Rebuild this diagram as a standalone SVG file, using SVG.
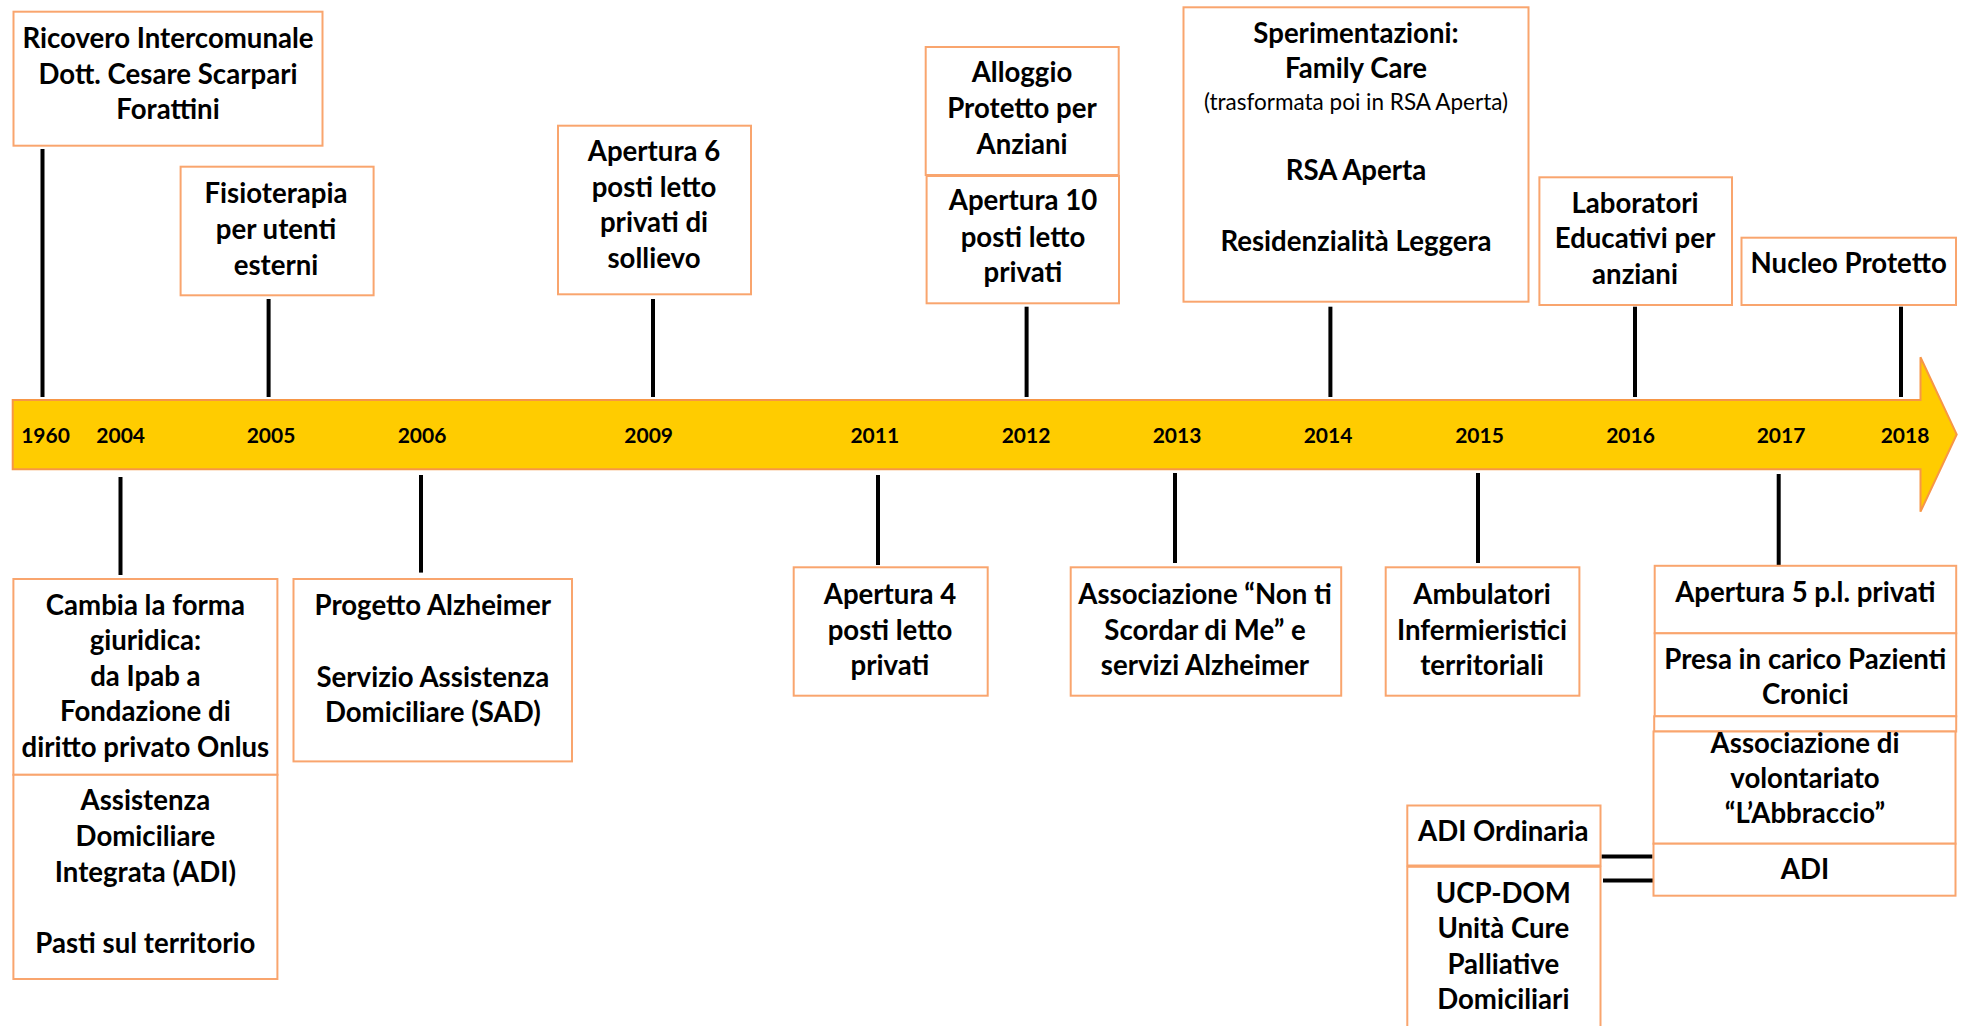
<svg xmlns="http://www.w3.org/2000/svg" width="1966" height="1026" viewBox="0 0 1966 1026">
<style>
.box{fill:#fff;stroke:#F9A56E;stroke-width:2}
.t{font-family:Lato,"Open Sans",sans-serif;font-weight:bold;font-size:27.6px;fill:#000;text-anchor:middle}
.s{font-family:Lato,"Open Sans",sans-serif;font-weight:normal;font-size:22.5px;fill:#000;text-anchor:middle}
.y{font-family:Lato,"Open Sans",sans-serif;font-weight:bold;font-size:21px;fill:#000;text-anchor:middle}
.ln{stroke:#000;stroke-width:4;fill:none}
</style>
<rect width="1966" height="1026" fill="#fff"/>
<g id="timeline">
<path d="M12.7,400 H1920.5 V357.3 L1956.7,434.4 L1920.5,511.7 V469.2 H12.7 Z" fill="#FFCC00" stroke="#F79646" stroke-width="2"/>
<text class="y" x="45.5" y="443">1960</text>
<text class="y" x="120.7" y="443">2004</text>
<text class="y" x="271" y="443">2005</text>
<text class="y" x="422" y="443">2006</text>
<text class="y" x="648.7" y="443">2009</text>
<text class="y" x="874.8" y="443">2011</text>
<text class="y" x="1026" y="443">2012</text>
<text class="y" x="1177" y="443">2013</text>
<text class="y" x="1328" y="443">2014</text>
<text class="y" x="1479.5" y="443">2015</text>
<text class="y" x="1630.5" y="443">2016</text>
<text class="y" x="1781" y="443">2017</text>
<text class="y" x="1905" y="443">2018</text>
</g>
<g id="connectors">
<line class="ln" x1="42.5" y1="149" x2="42.5" y2="397"/>
<line class="ln" x1="268.6" y1="299" x2="268.6" y2="397"/>
<line class="ln" x1="653" y1="299" x2="653" y2="397"/>
<line class="ln" x1="1026.6" y1="306.7" x2="1026.6" y2="397"/>
<line class="ln" x1="1330.4" y1="306.7" x2="1330.4" y2="397"/>
<line class="ln" x1="1635" y1="306.7" x2="1635" y2="397"/>
<line class="ln" x1="1901" y1="306.7" x2="1901" y2="397"/>
<line class="ln" x1="120.5" y1="477" x2="120.5" y2="575"/>
<line class="ln" x1="421" y1="475" x2="421" y2="572.6"/>
<line class="ln" x1="878" y1="475" x2="878" y2="565"/>
<line class="ln" x1="1175" y1="473" x2="1175" y2="563"/>
<line class="ln" x1="1478" y1="473" x2="1478" y2="563"/>
<line class="ln" x1="1778.7" y1="474" x2="1778.7" y2="565"/>
<line class="ln" x1="1601.5" y1="856.4" x2="1652.5" y2="856.4"/>
<line class="ln" x1="1603" y1="880.6" x2="1653.5" y2="880.6"/>
</g>
<g id="n1960">
<rect class="box" x="13.5" y="11.7" width="309" height="134"/>
<text class="t" x="168" y="48.3">Ricovero Intercomunale</text>
<text class="t" x="168" y="83.6">Dott. Cesare Scarpari</text>
<text class="t" x="168" y="119">Forattini</text>
</g>
<g id="n2005">
<rect class="box" x="180.6" y="166.7" width="193" height="128.6"/>
<text class="t" x="276" y="203">Fisioterapia</text>
<text class="t" x="276" y="239">per utenti</text>
<text class="t" x="276" y="275">esterni</text>
</g>
<g id="n2009">
<rect class="box" x="558" y="125.7" width="193" height="168.6"/>
<text class="t" x="654" y="161">Apertura 6</text>
<text class="t" x="654" y="196.7">posti letto</text>
<text class="t" x="654" y="232.3">privati di</text>
<text class="t" x="654" y="267.7">sollievo</text>
</g>
<g id="n2012a">
<rect class="box" x="925.7" y="47" width="193" height="128"/>
<text class="t" x="1022" y="81.7">Alloggio</text>
<text class="t" x="1022" y="118.3">Protetto per</text>
<text class="t" x="1022" y="154">Anziani</text>
</g>
<g id="n2012b">
<rect class="box" x="926.6" y="176" width="192.4" height="127.3"/>
<text class="t" x="1023" y="210">Apertura 10</text>
<text class="t" x="1023" y="246.7">posti letto</text>
<text class="t" x="1023" y="282.3">privati</text>
</g>
<g id="n2014">
<rect class="box" x="1183.5" y="7.3" width="345" height="294.4"/>
<text class="t" x="1356" y="42.7">Sperimentazioni:</text>
<text class="t" x="1356" y="78.3">Family Care</text>
<text class="s" x="1356" y="110">(trasformata poi in RSA Aperta)</text>
<text class="t" x="1356" y="180">RSA Aperta</text>
<text class="t" x="1356" y="250.7">Residenzialità Leggera</text>
</g>
<g id="n2016">
<rect class="box" x="1539.4" y="177.3" width="192.6" height="127.7"/>
<text class="t" x="1635" y="212.7">Laboratori</text>
<text class="t" x="1635" y="248.3">Educativi per</text>
<text class="t" x="1635" y="284">anziani</text>
</g>
<g id="n2018">
<rect class="box" x="1741.5" y="237.7" width="214.5" height="67.3"/>
<text class="t" x="1848.7" y="272.7">Nucleo Protetto</text>
</g>
<g id="n2004a">
<rect class="box" x="13.4" y="579" width="264" height="195.8"/>
<text class="t" x="145.4" y="614.5">Cambia la forma</text>
<text class="t" x="145.4" y="650.1">giuridica:</text>
<text class="t" x="145.4" y="685.7">da Ipab a</text>
<text class="t" x="145.4" y="721.3">Fondazione di</text>
<text class="t" x="145.4" y="756.9">diritto privato Onlus</text>
</g>
<g id="n2004b">
<rect class="box" x="13.4" y="774.8" width="264" height="204.2"/>
<text class="t" x="145.4" y="810">Assistenza</text>
<text class="t" x="145.4" y="846">Domiciliare</text>
<text class="t" x="145.4" y="881.6">Integrata (ADI)</text>
<text class="t" x="145.4" y="953.2">Pasti sul territorio</text>
</g>
<g id="n2006">
<rect class="box" x="293.5" y="579" width="278.5" height="182.4"/>
<text class="t" x="432.8" y="614.5">Progetto Alzheimer</text>
<text class="t" x="432.8" y="686.5">Servizio Assistenza</text>
<text class="t" x="432.8" y="721.7">Domiciliare (SAD)</text>
</g>
<g id="n2011">
<rect class="box" x="793.7" y="567.3" width="194" height="128.4"/>
<text class="t" x="890" y="604">Apertura 4</text>
<text class="t" x="890" y="640">posti letto</text>
<text class="t" x="890" y="675">privati</text>
</g>
<g id="n2013">
<rect class="box" x="1070.7" y="567.3" width="270.5" height="128.4"/>
<text class="t" x="1205" y="604">Associazione “Non ti</text>
<text class="t" x="1205" y="640">Scordar di Me” e</text>
<text class="t" x="1205" y="675">servizi Alzheimer</text>
</g>
<g id="n2015">
<rect class="box" x="1385.7" y="567.3" width="193.7" height="128.4"/>
<text class="t" x="1482" y="604">Ambulatori</text>
<text class="t" x="1482" y="640">Infermieristici</text>
<text class="t" x="1482" y="675">territoriali</text>
</g>
<g id="n2017a">
<rect class="box" x="1654.7" y="565.8" width="301.5" height="67.5"/>
<text class="t" x="1805.3" y="601.5">Apertura 5 p.l. privati</text>
</g>
<g id="n2017b">
<rect class="box" x="1654.7" y="633.3" width="301.5" height="83"/>
<text class="t" x="1805.3" y="669.4">Presa in carico Pazienti</text>
<text class="t" x="1805.3" y="704.4">Cronici</text>
</g>
<g id="n2017c">
<rect class="box" x="1654.2" y="716.3" width="302" height="15.2"/>
</g>
<g id="n2017d">
<rect class="box" x="1653.5" y="731.5" width="302" height="112.2"/>
<text class="t" x="1805" y="752.5">Associazione di</text>
<text class="t" x="1805" y="787.8">volontariato</text>
<text class="t" x="1805" y="822.8">“L’Abbraccio”</text>
</g>
<g id="n2017e">
<rect class="box" x="1653.5" y="843.7" width="302" height="52"/>
<text class="t" x="1805" y="878.8">ADI</text>
</g>
<g id="nADIord">
<rect class="box" x="1407.3" y="805.5" width="193.2" height="60"/>
<text class="t" x="1503.3" y="840.9">ADI Ordinaria</text>
</g>
<g id="nUCP">
<rect class="box" x="1407.3" y="866.8" width="193.2" height="175"/>
<text class="t" x="1503.3" y="903">UCP-DOM</text>
<text class="t" x="1503.3" y="938">Unità Cure</text>
<text class="t" x="1503.3" y="973.5">Palliative</text>
<text class="t" x="1503.3" y="1009.2">Domiciliari</text>
</g>
</svg>
